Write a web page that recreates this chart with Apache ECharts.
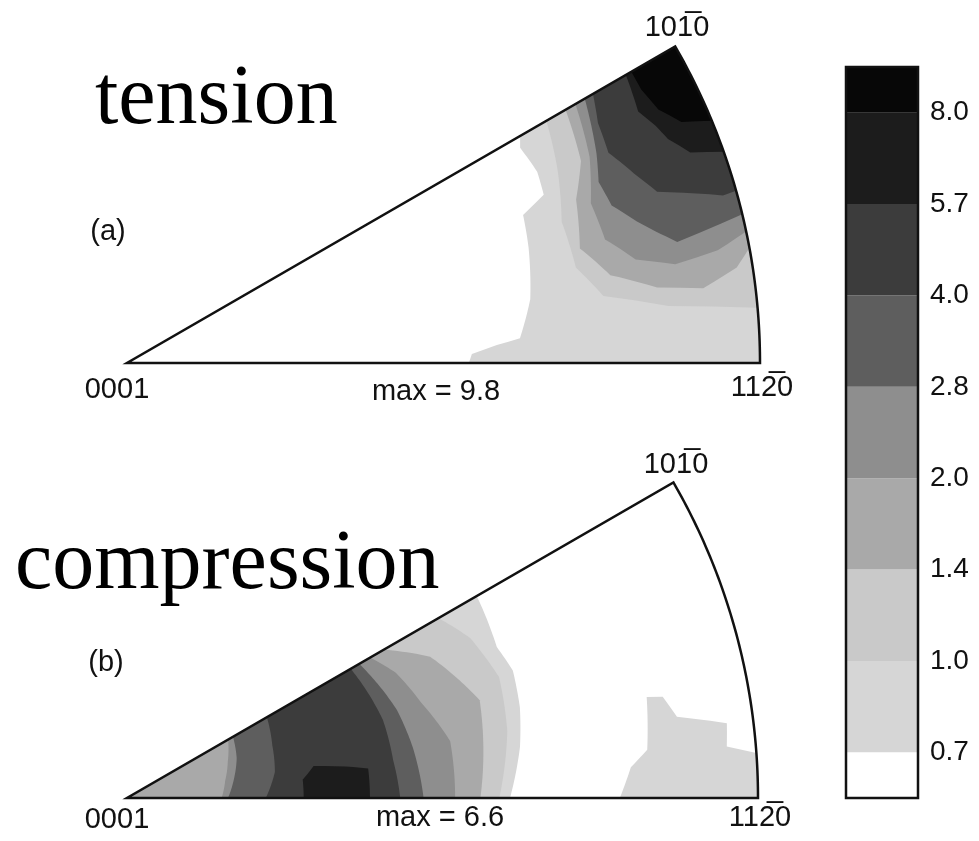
<!DOCTYPE html>
<html>
<head>
<meta charset="utf-8">
<title>Inverse pole figures - tension / compression</title>
<script src="https://cdn.jsdelivr.net/npm/echarts@6/dist/echarts.min.js"></script>
<style>
  html, body { margin: 0; padding: 0; background: #fff; }
  #chart { width: 979px; height: 841px; }
</style>
</head>
<body>
<div id="chart"></div>
<script>
// contour levels of the colour bar (multiples of random)
const levels = [0.7, 1.0, 1.4, 2.0, 2.8, 4.0, 5.7, 8.0];
const levelLabels = ['0.7', '1.0', '1.4', '2.0', '2.8', '4.0', '5.7', '8.0'];
const bandColors = ['#ffffff', '#d6d6d6', '#c9c9c9', '#a9a9a9', '#8e8e8e', '#5e5e5e', '#3c3c3c', '#1c1c1c', '#070707'];

const panelNames = ['tension', 'compression'];
const maxDensity = [9.8, 6.6];
const sectorSpan = 30; // 0001 - 1120 - 1010 triangle, degrees

// isolines: each point is [angle from the 0001-1120 edge (deg), radius (fraction)]
const tensionIsoLevel = [0.7, 1.0, 1.4, 2.0, 2.8, 4.0, 5.7, 8.0];
const tensionIso = [
  [[0, 0.54], [1.5, 0.545], [2.8, 0.585], [3.6, 0.622], [9, 0.645], [16, 0.66], [20.5, 0.668], [22, 0.71], [25, 0.715], [28.7, 0.708], [30, 0.717], [30, 1], [0, 1]],
  [[5, 1], [6, 0.86], [8, 0.76], [12, 0.725], [18, 0.722], [24, 0.745], [30, 0.765], [30, 1]],
  [[10.5, 1], [8.9, 0.975], [7.4, 0.918], [8.1, 0.846], [10.3, 0.776], [14.2, 0.738], [20, 0.755], [24, 0.785], [30, 0.8], [30, 1]],
  [[12, 1], [10.8, 0.95], [10.2, 0.88], [11.5, 0.82], [14.5, 0.78], [19, 0.775], [24, 0.8], [30, 0.818], [30, 1]],
  [[13.6, 1], [12.4, 0.89], [14, 0.86], [15.5, 0.836], [18, 0.805], [21, 0.798], [24, 0.812], [30, 0.835], [30, 1]],
  [[15.8, 1], [15.7, 0.978], [17.9, 0.88], [20.5, 0.855], [23.6, 0.83], [27, 0.835], [30, 0.85], [30, 1]],
  [[19.5, 1], [20.5, 0.95], [22.5, 0.925], [24.2, 0.915], [26.2, 0.9], [30, 0.91], [30, 1]],
  [[22.5, 1], [23.5, 0.955], [25.5, 0.93], [28, 0.92], [30, 0.92], [30, 1]]
];

const compressionIsoLevel = [0.7, 0.7, 1.0, 1.4, 2.0, 2.8, 4.0, 5.7];
const compressionIso = [
  [[0, 0], [0, 0.607], [7.4, 0.628], [13, 0.639], [18.3, 0.644], [22.2, 0.633], [30, 0.64], [30, 0]],
  [[0, 0.781], [3.5, 0.8], [5.3, 0.828], [11, 0.839], [10.7, 0.864], [8.4, 0.881], [7.1, 0.958], [4.9, 0.954], [4.1, 1], [0, 1]],
  [[0, 0], [0, 0.59], [10, 0.612], [18, 0.62], [25, 0.6], [30, 0.57], [30, 0]],
  [[0, 0], [0, 0.56], [15.5, 0.58], [25, 0.53], [30, 0.47], [30, 0]],
  [[0, 0.15], [0, 0.52], [10, 0.52], [18, 0.49], [25, 0.47], [30, 0.445], [30, 0.185], [20, 0.17], [10, 0.158]],
  [[0, 0.16], [0, 0.47], [10, 0.46], [18, 0.45], [30, 0.425], [30, 0.194], [20, 0.185], [10, 0.172]],
  [[0, 0.22], [0, 0.433], [8.1, 0.426], [17, 0.424], [29.5, 0.41], [30, 0.41], [30, 0.256], [20, 0.245], [10, 0.238]],
  [[0, 0.28], [0, 0.385], [7, 0.385], [8.2, 0.35], [9.7, 0.3], [6, 0.28]]
];

const labelFont = '"Liberation Sans", Arial, sans-serif';
const titleFont = '"Liberation Serif", "Times New Roman", serif';

// walk the outline in angle/radius space so arcs stay round
function polarPath(poly, api) {
  const pts = [];
  for (let i = 0; i < poly.length; i++) {
    const a = poly[i];
    const b = poly[(i + 1) % poly.length];
    const n = Math.max(1, Math.ceil(Math.abs(b[0] - a[0]) / 0.5));
    for (let k = 0; k < n; k++) {
      const t = k / n;
      pts.push(api.coord([a[1] + (b[1] - a[1]) * t, a[0] + (b[0] - a[0]) * t]));
    }
  }
  return pts;
}

function isoSeries(polarIndex, polys, lv) {
  return {
    type: 'custom',
    coordinateSystem: 'polar',
    polarIndex: polarIndex,
    silent: true,
    data: lv.map((v, i) => [v, i]),
    renderItem: (params, api) => ({
      type: 'polygon',
      shape: { points: polarPath(polys[params.dataIndex], api) },
      style: { fill: api.visual('color'), stroke: null }
    })
  };
}

function frameSeries(polarIndex) {
  const frame = [[0, 0], [0, 1], [sectorSpan, 1], [sectorSpan, 0]];
  return {
    type: 'custom',
    coordinateSystem: 'polar',
    polarIndex: polarIndex,
    silent: true,
    z: 5,
    data: [[0, 0]],
    renderItem: (params, api) => ({
      type: 'polygon',
      shape: { points: polarPath(frame, api) },
      style: { fill: 'none', stroke: '#111', lineWidth: 2.5, lineJoin: 'miter' }
    })
  };
}

const pieces = bandColors.map((c, i) => {
  const p = { color: c };
  if (i > 0) p.gte = levels[i - 1];
  if (i < levels.length) p.lt = levels[i];
  return p;
});

const bandCount = bandColors.length - 1;

const chart = echarts.init(document.getElementById('chart'), null, { renderer: 'canvas' });

const txt = (text, x, y, size, align, font) => ({
  type: 'text', x: x, y: y, silent: true,
  style: { text: text, fontSize: size, fontFamily: font || labelFont, fill: font ? '#000' : '#111', textAlign: align || 'center', textVerticalAlign: 'middle' }
});

chart.setOption({
  animation: false,
  backgroundColor: '#fff',
  polar: [
    { center: [127, 363], radius: 633 },
    { center: [127, 798], radius: 631 }
  ],
  angleAxis: [
    { polarIndex: 0, min: 0, max: 360, startAngle: 0, clockwise: false, show: false },
    { polarIndex: 1, min: 0, max: 360, startAngle: 0, clockwise: false, show: false }
  ],
  radiusAxis: [
    { polarIndex: 0, min: 0, max: 1, show: false },
    { polarIndex: 1, min: 0, max: 1, show: false }
  ],
  grid: { left: 846, top: 67, width: 72, height: 731, show: false },
  xAxis: { type: 'value', min: 0, max: 1, show: false },
  yAxis: {
    type: 'value', min: 0, max: bandCount, position: 'right',
    axisLine: { show: false }, axisTick: { show: false }, splitLine: { show: false },
    axisLabel: {
      customValues: levels.map((v, i) => i + 0.5),
      formatter: v => levelLabels[Math.round(v - 0.5)],
      fontSize: 28, fontFamily: labelFont, color: '#111', margin: 12
    }
  },
  visualMap: {
    type: 'piecewise', show: false, dimension: 0, seriesIndex: [0, 2],
    pieces: pieces
  },
  series: [
    isoSeries(0, tensionIso, tensionIsoLevel),
    frameSeries(0),
    isoSeries(1, compressionIso, compressionIsoLevel),
    frameSeries(1),
    {
      type: 'custom',
      silent: true,
      data: bandColors.map((c, i) => [i]),
      renderItem: (params, api) => {
        const i = api.value(0);
        const lo = Math.max(0, i - 0.5);
        const hi = Math.min(bandCount, i + 0.5);
        const p0 = api.coord([0, hi]);
        const p1 = api.coord([1, lo]);
        return {
          type: 'rect',
          shape: { x: p0[0], y: p0[1], width: p1[0] - p0[0], height: p1[1] - p0[1] },
          style: { fill: bandColors[i] }
        };
      }
    },
    {
      type: 'custom',
      silent: true,
      z: 5,
      data: [[0]],
      renderItem: (params, api) => {
        const p0 = api.coord([0, bandCount]);
        const p1 = api.coord([1, 0]);
        return {
          type: 'rect',
          shape: { x: p0[0], y: p0[1], width: p1[0] - p0[0], height: p1[1] - p0[1] },
          style: { fill: 'none', stroke: '#111', lineWidth: 2.5 }
        };
      }
    }
  ],
  graphic: [
    txt(panelNames[0], 95, 101, 84, 'left', titleFont),
    txt(panelNames[1], 15, 566, 84, 'left', titleFont),
    txt('(a)', 108, 232, 29),
    txt('(b)', 106, 663, 29),
    txt('0001', 117, 390, 29),
    txt('max = ' + maxDensity[0], 436, 392, 29),
    txt('112\u03050', 762, 388, 29),
    txt('101\u03050', 677, 28, 29),
    txt('0001', 117, 820, 29),
    txt('max = ' + maxDensity[1], 440, 818, 29),
    txt('112\u03050', 760, 818, 29),
    txt('101\u03050', 676, 465, 29)
  ]
});
</script>
</body>
</html>
